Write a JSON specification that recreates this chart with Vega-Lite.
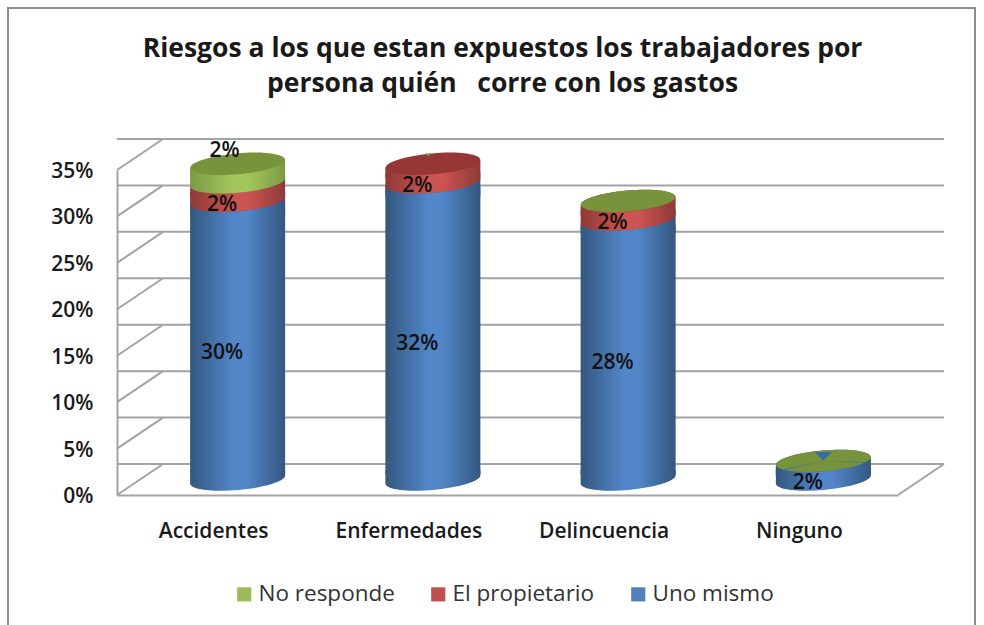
{"$schema":"https://vega.github.io/schema/vega-lite/v6.json","width":781,"height":325,"autosize":"none","padding":{"left":117,"top":170,"right":86,"bottom":130},"background":"white",
"title":{"text":["Riesgos a los que estan expuestos los trabajadores por","persona quién\u00a0\u00a0 corre con los gastos"],"font":"Open Sans","fontSize":26.5,"fontWeight":700,"color":"#1a1a1a","anchor":"middle","dx":-5,"offset":-90,"lineHeight":35},
"config":{"view":{"stroke":null},"font":"Open Sans"},
"datasets":{"marcas":[{"marca":0},{"marca":0.05},{"marca":0.1},{"marca":0.15},{"marca":0.2},{"marca":0.25},{"marca":0.3},{"marca":0.35}],
"filas":[
{"categoria":"Accidentes","serie":"Uno mismo","orden":1,"valor":0.30},{"categoria":"Accidentes","serie":"El propietario","orden":2,"valor":0.02},{"categoria":"Accidentes","serie":"No responde","orden":3,"valor":0.02},
{"categoria":"Enfermedades","serie":"Uno mismo","orden":1,"valor":0.32},{"categoria":"Enfermedades","serie":"El propietario","orden":2,"valor":0.02},{"categoria":"Enfermedades","serie":"No responde","orden":3,"valor":0},
{"categoria":"Delincuencia","serie":"Uno mismo","orden":1,"valor":0.28},{"categoria":"Delincuencia","serie":"El propietario","orden":2,"valor":0.02},{"categoria":"Delincuencia","serie":"No responde","orden":3,"valor":0},
{"categoria":"Ninguno","serie":"Uno mismo","orden":1,"valor":0.02},{"categoria":"Ninguno","serie":"El propietario","orden":2,"valor":0},{"categoria":"Ninguno","serie":"No responde","orden":3,"valor":0}]},
"layer":[
{"data":{"name":"marcas"},"mark":{"type":"rule","stroke":"#a3a3a3","strokeWidth":2,"xOffset":46,"x2Offset":46,"yOffset":-31,"y2Offset":-31},"encoding":{"y":{"field":"marca","type":"quantitative","scale":{"domain":[0,0.35]},"axis":{"title":null,"values":[0,0.05,0.1,0.15,0.2,0.25,0.3,0.35],"format":".0%","grid":false,"ticks":false,"domainColor":"#a3a3a3","domainWidth":2,"labelFont":"Open Sans","labelFontSize":21,"labelFontWeight":600,"labelColor":"#1a1a1a","labelPadding":24,"labelOffset":1.5}}}},
{"data":{"name":"marcas"},"mark":{"type":"rule","stroke":"#a3a3a3","strokeWidth":2,"y2Offset":-31},"encoding":{"x":{"value":0},"x2":{"value":46},"y":{"field":"marca","type":"quantitative"},"y2":{"field":"marca"}}},
{"data":{"name":"marcas"},"transform":[{"filter":"datum.marca==0"}],"mark":{"type":"rule","stroke":"#a3a3a3","strokeWidth":2,"y2Offset":-31},"encoding":{"x":{"value":781},"x2":{"value":827},"y":{"field":"marca","type":"quantitative"},"y2":{"field":"marca"}}},
{"data":{"name":"filas"},
"transform":[{"stack":"valor","groupby":["categoria"],"sort":[{"field":"orden","order":"ascending"}],"as":["y0","y1"]},{"calculate":"(datum.y0+datum.y1)/2","as":"medio"}],
"encoding":{"x":{"field":"categoria","type":"nominal","sort":null,"scale":{"domain":["Accidentes","Enfermedades","Delincuencia","Ninguno"],"paddingInner":0,"paddingOuter":0},"axis":{"title":null,"ticks":false,"labelAngle":0,"domainColor":"#a3a3a3","domainWidth":2,"labelFont":"Open Sans","labelFontSize":21,"labelFontWeight":600,"labelColor":"#1a1a1a","labelPadding":25,"labelOffset":-1}}},
"layer":[
{"mark":{"type":"point","filled":true,"opacity":0,"size":1},"encoding":{"y":{"field":"y1","type":"quantitative"},"color":{"field":"serie","type":"nominal","scale":{"domain":["No responde","El propietario","Uno mismo"],"range":["#9bbb59","#c0504d","#4f81bd"]},"legend":{"title":null,"orient":"none","legendX":116,"legendY":413,"direction":"horizontal","columns":3,"symbolType":"square","symbolSize":200,"symbolOpacity":1,"symbolStrokeWidth":0,"labelFont":"Open Sans","labelFontSize":22.5,"labelColor":"#333333","labelOffset":3,"columnPadding":32}}}},

{"transform":[{"filter":"datum.serie=='Uno mismo'"}],"layer":[
{"mark":{"type":"bar","size":95,"xOffset":23,"yOffset":-10.5,"y2Offset":-20.5,"fill":{"gradient":"linear","x1":0,"x2":1,"y1":0,"y2":0,"stops":[{"offset":0,"color":"#33577f"},{"offset":0.45,"color":"#5286c8"},{"offset":0.6,"color":"#5286c8"},{"offset":1,"color":"#33577f"}]}},"encoding":{"y":{"field":"y1","type":"quantitative"},"y2":{"field":"y0"}}},
{"mark":{"type":"point","filled":true,"opacity":1,"size":9025,"strokeWidth":0,"xOffset":23,"yOffset":-15.5,"shape":"M-1,-0.2L-1,0.087C-0.986,0.208,-0.531,0.267,0.019,0.219C0.569,0.171,1.007,0.0338,1,-0.087L1,-0.2Z","fill":{"gradient":"linear","x1":0,"x2":1,"y1":0,"y2":0,"stops":[{"offset":0,"color":"#33577f"},{"offset":0.45,"color":"#5286c8"},{"offset":0.6,"color":"#5286c8"},{"offset":1,"color":"#33577f"}]}},"encoding":{"y":{"field":"y0","type":"quantitative"}}},
{"mark":{"type":"point","filled":true,"opacity":1,"size":9025,"strokeWidth":0,"xOffset":23,"yOffset":-15.5,"shape":"M-1,0.087L1,-0.087L1,0.3L-1,0.3Z","fill":{"gradient":"linear","x1":0,"x2":1,"y1":0,"y2":0,"stops":[{"offset":0,"color":"#33577f"},{"offset":0.45,"color":"#5286c8"},{"offset":0.6,"color":"#5286c8"},{"offset":1,"color":"#33577f"}]}},"encoding":{"y":{"field":"y1","type":"quantitative"}}},
{"mark":{"type":"point","filled":true,"opacity":1,"size":9025,"angle":-5,"strokeWidth":0,"xOffset":23,"yOffset":-15.5,"shape":"M-1,0C-1,-0.1215,-0.552,-0.22,0,-0.22C0.552,-0.22,1,-0.1215,1,0C1,0.1215,0.552,0.22,0,0.22C-0.552,0.22,-1,0.1215,-1,0Z","fill":"#3a6597"},"encoding":{"y":{"field":"y1","type":"quantitative"}}}
]},

{"transform":[{"filter":"datum.serie=='El propietario' && datum.valor>0"}],"layer":[
{"mark":{"type":"point","filled":true,"opacity":1,"size":9025,"strokeWidth":0,"xOffset":23,"yOffset":-15.5,"shape":"M-1,-0.2L-1,0.087C-0.986,0.208,-0.531,0.267,0.019,0.219C0.569,0.171,1.007,0.0338,1,-0.087L1,-0.2Z","fill":{"gradient":"linear","x1":0,"x2":1,"y1":0,"y2":0,"stops":[{"offset":0,"color":"#8c3a38"},{"offset":0.45,"color":"#cd5450"},{"offset":0.6,"color":"#cd5450"},{"offset":1,"color":"#8c3a38"}]}},"encoding":{"y":{"field":"y0","type":"quantitative"}}},
{"mark":{"type":"point","filled":true,"opacity":1,"size":9025,"strokeWidth":0,"xOffset":23,"yOffset":-15.5,"shape":"M-1,0.087L1,-0.087L1,0.3L-1,0.3Z","fill":{"gradient":"linear","x1":0,"x2":1,"y1":0,"y2":0,"stops":[{"offset":0,"color":"#8c3a38"},{"offset":0.45,"color":"#cd5450"},{"offset":0.6,"color":"#cd5450"},{"offset":1,"color":"#8c3a38"}]}},"encoding":{"y":{"field":"y1","type":"quantitative"}}},
{"mark":{"type":"point","filled":true,"opacity":1,"size":9025,"angle":-5,"strokeWidth":0,"xOffset":23,"yOffset":-15.5,"shape":"M-1,0C-1,-0.1215,-0.552,-0.22,0,-0.22C0.552,-0.22,1,-0.1215,1,0C1,0.1215,0.552,0.22,0,0.22C-0.552,0.22,-1,0.1215,-1,0Z","fill":"#953735"},"encoding":{"y":{"field":"y1","type":"quantitative"}}}
]},

{"transform":[{"filter":"datum.serie=='No responde' && datum.valor>0"}],"layer":[
{"mark":{"type":"point","filled":true,"opacity":1,"size":9025,"strokeWidth":0,"xOffset":23,"yOffset":-15.5,"shape":"M-1,-0.2L-1,0.087C-0.986,0.208,-0.531,0.267,0.019,0.219C0.569,0.171,1.007,0.0338,1,-0.087L1,-0.2Z","fill":{"gradient":"linear","x1":0,"x2":1,"y1":0,"y2":0,"stops":[{"offset":0,"color":"#7b9a44"},{"offset":0.45,"color":"#a3c75d"},{"offset":0.6,"color":"#a3c75d"},{"offset":1,"color":"#7b9a44"}]}},"encoding":{"y":{"field":"y0","type":"quantitative"}}},
{"mark":{"type":"point","filled":true,"opacity":1,"size":9025,"strokeWidth":0,"xOffset":23,"yOffset":-15.5,"shape":"M-1,0.087L1,-0.087L1,0.3L-1,0.3Z","fill":{"gradient":"linear","x1":0,"x2":1,"y1":0,"y2":0,"stops":[{"offset":0,"color":"#7b9a44"},{"offset":0.45,"color":"#a3c75d"},{"offset":0.6,"color":"#a3c75d"},{"offset":1,"color":"#7b9a44"}]}},"encoding":{"y":{"field":"y1","type":"quantitative"}}}
]},

{"transform":[{"filter":"datum.serie=='No responde' && datum.categoria!='Enfermedades'"}],"mark":{"type":"point","filled":true,"opacity":1,"size":9025,"angle":-5,"strokeWidth":0,"xOffset":23,"yOffset":-15.5,"shape":"M-1,0C-1,-0.1215,-0.552,-0.22,0,-0.22C0.552,-0.22,1,-0.1215,1,0C1,0.1215,0.552,0.22,0,0.22C-0.552,0.22,-1,0.1215,-1,0Z","fill":"#77933c"},"encoding":{"y":{"field":"y1","type":"quantitative"}}},
{"transform":[{"filter":"datum.serie=='No responde' && datum.categoria=='Enfermedades'"}],"mark":{"type":"point","filled":true,"opacity":1,"size":9025,"strokeWidth":0,"xOffset":23,"yOffset":-15.5,"shape":"M-0.17,-0.215L-0.03,-0.215L-0.1,-0.16Z","fill":"#77933c"},"encoding":{"y":{"field":"y1","type":"quantitative"}}},
{"transform":[{"filter":"datum.serie=='Uno mismo' && datum.categoria=='Ninguno'"}],"mark":{"type":"point","filled":true,"opacity":1,"size":9025,"strokeWidth":0,"xOffset":23,"yOffset":-15.5,"shape":"M-0.18,-0.19L0,-0.01L0.18,-0.19Z M0,0L-0.85,0.18L-0.85,0.2Z M0.02,0L0.91,0.02L0.91,0.04Z","fill":"#3a6aa5"},"encoding":{"y":{"field":"y1","type":"quantitative"}}},

{"transform":[{"filter":"datum.valor>0 && datum.serie!='No responde'"}],"mark":{"type":"text","font":"Open Sans","fontSize":21,"fontWeight":600,"color":"#111111","dx":7.5,"dy":-2.5},"encoding":{"y":{"field":"medio","type":"quantitative"},"text":{"field":"valor","type":"quantitative","format":".0%"}}},
{"transform":[{"filter":"datum.valor>0 && datum.serie=='No responde'"}],"mark":{"type":"text","font":"Open Sans","fontSize":21,"fontWeight":600,"color":"#111111","dx":10,"dy":-37.5},"encoding":{"y":{"field":"medio","type":"quantitative"},"text":{"field":"valor","type":"quantitative","format":".0%"}}}
]},
{"data":{"name":"marcas"},"transform":[{"filter":"datum.marca==0"}],"mark":{"type":"rect","fill":null,"fillOpacity":0,"stroke":"#8c8c8c","strokeWidth":2},"encoding":{"x":{"value":-109},"x2":{"value":858},"y":{"value":-162},"y2":{"value":480}}}
]}
